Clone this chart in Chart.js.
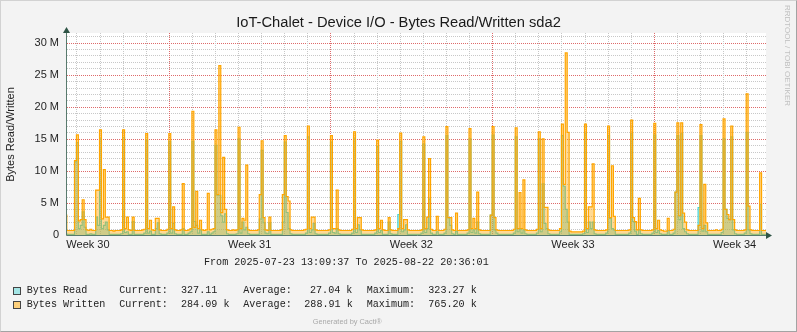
<!DOCTYPE html>
<html>
<head>
<meta charset="utf-8">
<title>IoT-Chalet - Device I/O</title>
<script src="https://cdn.jsdelivr.net/npm/chart.js@4.4.1/dist/chart.umd.min.js"></script>
<style>
  html, body { margin: 0; padding: 0; background: #f3f3f3; }
  #wrap { position: relative; width: 797px; height: 332px; overflow: hidden; }
  #graph { position: absolute; left: 0; top: 0; }
  .txt { position: absolute; white-space: nowrap; }
  .title { left: 0; width: 797px; top: 14px; text-align: center; font: 14.7px "Liberation Sans", Arial, sans-serif; line-height: 17px; color: #1a1a1a; }
  .vlabel { left: -50px; width: 121px; top: 128px; text-align: center; font: 11px "Liberation Sans", Arial, sans-serif; line-height: 13px; color: #222; transform: rotate(-90deg); }
  .mono { font: 10.1px "Liberation Mono", "Courier New", monospace; line-height: 12px; color: #222; }
  .box { position: absolute; width: 6px; height: 6px; border: 1px solid #444; }
  .cacti { font: 7.4px "Liberation Sans", Arial, sans-serif; line-height: 9px; color: #a9a9a9; }
  .rrd { font: 8px "Liberation Sans", Arial, sans-serif; line-height: 10px; color: #bdbdbd; transform-origin: 0 0; transform: rotate(90deg); }
  #frame { position: absolute; left: 0; top: 0; width: 797px; height: 332px; box-sizing: border-box;
           border-top: 1px solid #d2d2d2; border-left: 1px solid #d2d2d2;
           border-right: 1px solid #a3a3a3; border-bottom: 1px solid #a3a3a3; pointer-events: none; }
</style>
</head>
<body>
<div id="wrap">
  <canvas id="graph" width="797" height="332"></canvas>

  <div class="txt title">IoT-Chalet - Device I/O - Bytes Read/Written sda2</div>
  <div class="txt vlabel">Bytes Read/Written</div>
  <div class="txt rrd" style="left:791.5px; top:5px;">RRDTOOL / TOBI OETIKER</div>

  <div class="txt mono" style="left:204px; top:257px;">From 2025-07-23 13:09:37 To 2025-08-22 20:36:01</div>

  <div class="box" style="left:13px; top:287px; background:#a3e5e5;"></div>
  <div class="txt mono" style="left:26.7px; top:285px;">Bytes Read</div>
  <div class="txt mono" style="left:119.3px; top:285px;">Current:</div>
  <div class="txt mono" style="left:181px; top:285px;">327.11</div>
  <div class="txt mono" style="left:243.3px; top:285px;">Average:</div>
  <div class="txt mono" style="left:310px; top:285px;">27.04 k</div>
  <div class="txt mono" style="left:366.7px; top:285px;">Maximum:</div>
  <div class="txt mono" style="left:428.3px; top:285px;">323.27 k</div>

  <div class="box" style="left:13px; top:301px; background:#fdd07c;"></div>
  <div class="txt mono" style="left:26.7px; top:298.5px;">Bytes Written</div>
  <div class="txt mono" style="left:119.3px; top:298.5px;">Current:</div>
  <div class="txt mono" style="left:181px; top:298.5px;">284.09 k</div>
  <div class="txt mono" style="left:243.3px; top:298.5px;">Average:</div>
  <div class="txt mono" style="left:304.3px; top:298.5px;">288.91 k</div>
  <div class="txt mono" style="left:366.7px; top:298.5px;">Maximum:</div>
  <div class="txt mono" style="left:428.3px; top:298.5px;">765.20 k</div>

  <div class="txt cacti" style="left:312.7px; top:316.5px;">Generated by Cacti®</div>
  <div id="frame"></div>
</div>

<script>
// ==== time range / axis labels ====
const rangeStart = '2025-07-23 13:09:37';
const rangeEnd = '2025-08-22 20:36:01';
const firstSample = '2025-07-23 12:00:00'; // 2h consolidated rows
const stepHours = 2;

const weekLabels = ['Week 30', 'Week 31', 'Week 32', 'Week 33', 'Week 34'];
const weekLabelTimes = ['2025-07-24 12:00:00', '2025-07-31 12:00:00', '2025-08-07 12:00:00', '2025-08-14 12:00:00', '2025-08-21 12:00:00'];
const weekStarts = ['2025-07-28 00:00:00', '2025-08-04 00:00:00', '2025-08-11 00:00:00', '2025-08-18 00:00:00'];
const firstMidnight = '2025-07-24 00:00:00';

const yMax = 31.5;      // M
const yMajorStep = 5;   // labelled lines

// ==== Bytes Written (M), one row per 2h, grouped by week ====
const writtenWeek30 = [
  3.1, 3.1, 0.7, 0.7, 0.7, 0.7,
  11.6, 15.6, 2.2, 2.4, 5.5, 2.4, 0.8, 0.7, 0.9, 0.7, 0.7, 7.0,
  7.0, 16.4, 2.5, 10.2, 2.8, 2.8, 0.7, 0.7, 0.6, 0.7, 0.7, 0.7,
  0.8, 16.4, 1.0, 2.8, 0.8, 0.7, 2.8, 0.7, 0.7, 0.7, 0.7, 0.8,
  0.9, 15.8, 1.0, 2.3, 0.8, 0.7, 2.6, 2.6, 0.8, 0.7, 0.7, 0.7
];
const writtenWeek31 = [
  0.9, 15.8, 1.0, 4.4, 0.8, 0.7, 0.7, 0.8, 8.0, 0.7, 0.7, 0.8,
  1.0, 19.3, 1.2, 6.8, 1.0, 2.3, 0.8, 0.7, 0.8, 6.5, 0.8, 0.9,
  1.0, 16.4, 6.3, 26.4, 3.5, 12.1, 4.0, 0.8, 0.7, 0.7, 0.8, 0.7,
  0.8, 16.8, 1.0, 2.6, 2.3, 10.9, 0.8, 0.7, 0.7, 0.7, 0.7, 0.8,
  6.3, 14.7, 2.7, 0.8, 0.7, 2.8, 0.7, 0.7, 0.7, 0.7, 0.7, 0.8,
  6.3, 15.5, 6.0, 5.3, 0.8, 0.7, 0.7, 0.7, 0.7, 0.7, 0.7, 0.8,
  0.9, 17.0, 1.0, 2.8, 2.8, 0.8, 0.7, 0.7, 0.7, 0.7, 0.7, 0.7
];
const writtenWeek32 = [
  0.8, 15.5, 1.0, 1.0, 7.0, 0.8, 0.7, 0.7, 0.7, 0.7, 0.7, 0.7,
  0.9, 16.1, 1.0, 2.7, 2.7, 0.8, 0.7, 0.7, 0.7, 0.7, 0.7, 0.7,
  0.8, 14.8, 1.0, 2.3, 0.8, 0.7, 0.7, 2.7, 0.8, 0.7, 0.7, 0.7,
  1.0, 15.9, 1.0, 2.4, 2.4, 0.8, 0.7, 0.7, 0.7, 0.7, 0.7, 0.7,
  0.8, 15.3, 1.0, 2.8, 11.9, 0.9, 0.7, 0.7, 2.9, 0.7, 0.7, 0.7,
  0.9, 16.9, 2.7, 2.7, 0.8, 0.7, 3.4, 0.7, 0.7, 0.7, 0.7, 0.7,
  0.8, 16.6, 1.0, 2.6, 1.0, 6.7, 0.8, 0.7, 0.7, 0.7, 0.7, 0.7
];
const writtenWeek33 = [
  3.1, 16.9, 2.7, 0.8, 0.7, 0.7, 0.7, 0.7, 0.7, 0.7, 0.7, 0.7,
  0.9, 16.7, 1.0, 6.6, 1.0, 8.6, 0.8, 0.7, 0.7, 0.7, 0.7, 0.7,
  0.9, 16.1, 1.0, 15.0, 4.3, 4.3, 0.8, 0.7, 0.7, 0.7, 0.7, 0.7,
  1.0, 17.3, 7.9, 28.4, 16.0, 0.6, 0.5, 0.5, 0.5, 0.5, 0.5, 0.5,
  0.6, 17.3, 1.0, 4.4, 4.4, 11.1, 0.8, 0.7, 0.7, 0.7, 0.7, 0.7,
  0.8, 17.0, 2.7, 10.8, 2.9, 0.7, 0.7, 0.7, 0.7, 0.7, 0.7, 0.7,
  0.8, 17.9, 2.7, 2.1, 0.8, 5.7, 0.8, 0.7, 0.7, 0.7, 0.7, 0.7
];
const writtenWeek34 = [
  0.8, 17.4, 1.0, 2.3, 0.8, 0.7, 0.6, 0.6, 2.6, 0.7, 0.7, 0.9,
  6.7, 17.5, 3.0, 17.5, 3.4, 2.0, 0.8, 0.7, 0.7, 0.7, 0.7, 0.7,
  1.5, 17.2, 1.0, 7.9, 1.9, 0.7, 0.7, 0.7, 0.7, 0.8, 0.7, 0.7,
  0.9, 18.1, 4.0, 3.2, 2.4, 17.0, 2.4, 0.8, 0.7, 0.7, 0.7, 0.7,
  0.8, 22.0, 4.5, 0.8, 0.7, 0.7, 0.7, 0.7, 9.7, 0.7, 0.7
];

// ==== Bytes Read (M) ====
const readWeek30 = [
  0.3, 0.2, 0.1, 0.1, 0.1, 0.1,
  11.4, 14.4, 1.0, 1.5, 3.6, 1.2, 0.1, 0.1, 0.2, 0.1, 0.1, 2.8,
  1.5, 15.0, 1.0, 1.5, 2.0, 0.8, 0.1, 0.1, 0.1, 0.1, 0.1, 0.1,
  0.2, 15.2, 0.4, 0.5, 0.1, 0.1, 2.1, 0.1, 0.1, 0.1, 0.1, 0.1,
  0.3, 14.8, 0.3, 0.6, 0.1, 0.1, 1.0, 1.9, 0.2, 0.1, 0.1, 0.1
];
const readWeek31 = [
  0.3, 14.6, 0.3, 1.8, 0.2, 0.1, 0.1, 0.1, 1.0, 0.1, 0.1, 0.3,
  0.5, 14.6, 2.1, 1.5, 0.3, 0.8, 0.1, 0.1, 0.1, 0.5, 0.1, 0.3,
  0.5, 14.0, 6.2, 6.2, 3.0, 2.0, 3.3, 0.2, 0.1, 0.1, 0.1, 0.1,
  0.2, 15.0, 0.3, 2.0, 0.8, 1.2, 0.2, 0.1, 0.1, 0.1, 0.1, 0.1,
  2.5, 13.2, 1.9, 0.3, 0.2, 1.9, 0.1, 0.1, 0.1, 0.1, 0.1, 0.1,
  2.0, 14.5, 3.5, 1.0, 0.2, 0.1, 0.1, 0.1, 0.1, 0.1, 0.1, 0.1,
  0.3, 15.3, 0.4, 0.8, 1.8, 0.2, 0.1, 0.1, 0.1, 0.1, 0.1, 0.1
];
const readWeek32 = [
  0.3, 14.5, 0.4, 0.3, 1.0, 0.2, 0.1, 0.1, 0.1, 0.1, 0.1, 0.1,
  0.3, 15.0, 0.4, 1.6, 0.8, 0.1, 0.1, 0.1, 0.1, 0.1, 0.1, 0.1,
  0.3, 13.8, 0.4, 0.7, 0.1, 0.1, 0.1, 2.0, 0.2, 0.1, 0.1, 0.1,
  3.2, 14.6, 0.5, 0.8, 1.6, 0.1, 0.1, 0.1, 0.1, 0.1, 0.1, 0.1,
  0.3, 14.2, 0.4, 1.0, 5.6, 0.3, 0.1, 0.1, 0.5, 0.1, 0.1, 0.1,
  0.3, 15.5, 2.7, 1.5, 0.2, 0.1, 0.6, 0.1, 0.1, 0.1, 0.1, 0.1,
  0.3, 15.0, 0.4, 0.8, 0.3, 2.0, 0.2, 0.1, 0.1, 0.1, 0.1, 0.1
];
const readWeek33 = [
  3.1, 15.6, 0.8, 0.3, 0.1, 0.1, 0.1, 0.1, 0.1, 0.1, 0.1, 0.1,
  0.3, 15.3, 0.5, 1.0, 0.3, 0.8, 0.2, 0.1, 0.1, 0.1, 0.1, 0.1,
  0.3, 15.0, 0.5, 8.0, 1.8, 1.0, 0.2, 0.1, 0.1, 0.1, 0.1, 0.1,
  0.5, 15.5, 7.6, 4.0, 2.0, 0.1, 0.1, 0.1, 0.1, 0.1, 0.1, 0.1,
  0.2, 15.8, 0.4, 2.0, 1.0, 2.0, 0.2, 0.1, 0.1, 0.1, 0.1, 0.1,
  0.3, 15.5, 2.6, 1.0, 0.8, 0.1, 0.1, 0.1, 0.1, 0.1, 0.1, 0.1,
  0.3, 15.8, 2.1, 0.6, 0.1, 0.8, 0.2, 0.1, 0.1, 0.1, 0.1, 0.1
];
const readWeek34 = [
  0.3, 15.6, 0.4, 0.7, 0.2, 0.1, 0.1, 0.1, 0.7, 0.1, 0.1, 0.3,
  6.7, 15.5, 2.4, 15.8, 1.0, 0.5, 0.2, 0.1, 0.1, 0.1, 0.1, 0.1,
  4.3, 15.5, 0.6, 1.5, 0.5, 0.1, 0.1, 0.1, 0.1, 0.1, 0.1, 0.1,
  0.4, 15.0, 4.0, 2.6, 2.4, 15.3, 0.8, 0.2, 0.1, 0.1, 0.1, 0.1,
  0.3, 16.0, 0.8, 0.2, 0.1, 0.1, 0.1, 0.1, 4.8, 0.1, 0.1
];

// ==== helpers ====
const toHours = t => (Date.parse(t.replace(' ', 'T') + 'Z') - Date.parse(rangeStart.replace(' ', 'T') + 'Z')) / 3600000;
const spanHours = toHours(rangeEnd);
const sampleStart = toHours(firstSample);

function toSteps(values) {
  const pts = values.map((v, i) => ({ x: sampleStart + i * stepHours, y: v }));
  // close the last row so the step reaches its end
  pts.push({ x: sampleStart + values.length * stepHours, y: values[values.length - 1] });
  return pts;
}

const written = [].concat(writtenWeek30, writtenWeek31, writtenWeek32, writtenWeek33, writtenWeek34);
const read = [].concat(readWeek30, readWeek31, readWeek32, readWeek33, readWeek34);

const minorGrid = '#c8c8c8';
const majorGrid = '#de6a6a';

const dayHours = [];
for (let h = toHours(firstMidnight); h < spanHours; h += 24) dayHours.push(h);
const weekStartHours = weekStarts.map(toHours);
const weekLabelHours = weekLabelTimes.map(toHours);
const isWeekStart = v => weekStartHours.some(w => Math.abs(w - v) < 1e-6);

const yTicks = [];
for (let v = 0; v <= Math.floor(yMax); v++) yTicks.push(v);

// ==== plot background, dotted rrd-style grid, axes with arrows ====
const plotBackground = {
  id: 'plotBackground',
  beforeDraw(chart) {
    const { ctx, chartArea: a } = chart;
    ctx.save();
    ctx.fillStyle = '#ffffff';
    ctx.fillRect(a.left, a.top, a.right - a.left, a.bottom - a.top);
    ctx.restore();
  }
};

const dottedGrid = {
  id: 'dottedGrid',
  beforeDatasetsDraw(chart) {
    const { ctx, chartArea: a, scales } = chart;
    const left = Math.round(a.left) + 1, right = Math.round(a.right);
    const top = Math.round(a.top), bottom = Math.round(a.bottom);
    ctx.save();
    yTicks.forEach(v => {
      if (v === 0) return;
      const y = Math.round(scales.y.getPixelForValue(v));
      ctx.fillStyle = v % yMajorStep === 0 ? majorGrid : minorGrid;
      for (let x = left; x < right; x += 2) ctx.fillRect(x, y, 1, 1);
    });
    dayHours.forEach(h => {
      const x = Math.round(scales.x.getPixelForValue(h));
      ctx.fillStyle = isWeekStart(h) ? majorGrid : minorGrid;
      for (let y = top; y < bottom; y += 2) ctx.fillRect(x, y, 1, 1);
    });
    ctx.restore();
  }
};

const axisArrows = {
  id: 'axisArrows',
  afterDraw(chart) {
    const { ctx, chartArea: a } = chart;
    const x0 = Math.round(a.left) + 0.5;
    const y0 = Math.round(a.bottom) + 0.5;
    ctx.save();
    ctx.strokeStyle = '#587a6d';
    ctx.lineWidth = 1;
    ctx.beginPath();
    ctx.moveTo(x0, y0);
    ctx.lineTo(x0, a.top - 2);
    ctx.moveTo(x0, y0);
    ctx.lineTo(a.right + 3, y0);
    ctx.stroke();

    ctx.fillStyle = '#2f5446';
    ctx.beginPath();
    ctx.moveTo(x0, a.top - 6);
    ctx.lineTo(x0 - 3.5, a.top);
    ctx.lineTo(x0 + 3.5, a.top);
    ctx.closePath();
    ctx.fill();
    ctx.beginPath();
    ctx.moveTo(a.right + 6, y0);
    ctx.lineTo(a.right, y0 - 3.5);
    ctx.lineTo(a.right, y0 + 3.5);
    ctx.closePath();
    ctx.fill();
    ctx.restore();
  }
};

Chart.defaults.font.family = "'Liberation Sans', Arial, sans-serif";

const ctx = document.getElementById('graph').getContext('2d');
new Chart(ctx, {
  type: 'line',
  data: {
    datasets: [
      {
        label: 'Bytes Written',
        data: toSteps(written),
        order: 1,
        stepped: 'after',
        borderColor: '#ffa500',
        borderWidth: 1.2,
        backgroundColor: 'rgba(255, 165, 0, 0.42)',
        fill: 'origin',
        pointRadius: 0
      },
      {
        label: 'Bytes Read',
        data: toSteps(read),
        order: 2,
        stepped: 'after',
        borderColor: '#45d3d3',
        borderWidth: 1.1,
        backgroundColor: 'rgba(70, 205, 205, 0.45)',
        fill: 'origin',
        pointRadius: 0
      }
    ]
  },
  options: {
    responsive: false,
    animation: false,
    devicePixelRatio: 1,
    layout: { padding: { top: 33, right: 31, left: 0, bottom: 0 } },
    plugins: {
      legend: { display: false },
      tooltip: { enabled: false },
      title: { display: false }
    },
    scales: {
      x: {
        type: 'linear',
        position: 'bottom',
        min: 0,
        max: spanHours,
        afterBuildTicks: s => { s.ticks = weekLabelHours.map(v => ({ value: v })); },
        afterFit: s => { s.height = 97; },
        ticks: {
          autoSkip: false,
          maxRotation: 0,
          padding: 3,
          color: '#1f1f1f',
          font: { size: 11 },
          callback: (v, i) => weekLabels[i]
        },
        grid: { display: false, drawTicks: false },
        border: { display: false }
      },
      y: {
        min: 0,
        max: yMax,
        afterBuildTicks: s => { s.ticks = yTicks.map(v => ({ value: v })); },
        afterFit: s => { s.width = 66; },
        ticks: {
          autoSkip: false,
          padding: 7,
          color: '#1f1f1f',
          font: { size: 11 },
          callback: v => (v % yMajorStep === 0) ? (v === 0 ? '0' : v + ' M') : ''
        },
        grid: { display: false, drawTicks: false },
        border: { display: false }
      }
    }
  },
  plugins: [plotBackground, dottedGrid, axisArrows]
});
</script>
</body>
</html>
